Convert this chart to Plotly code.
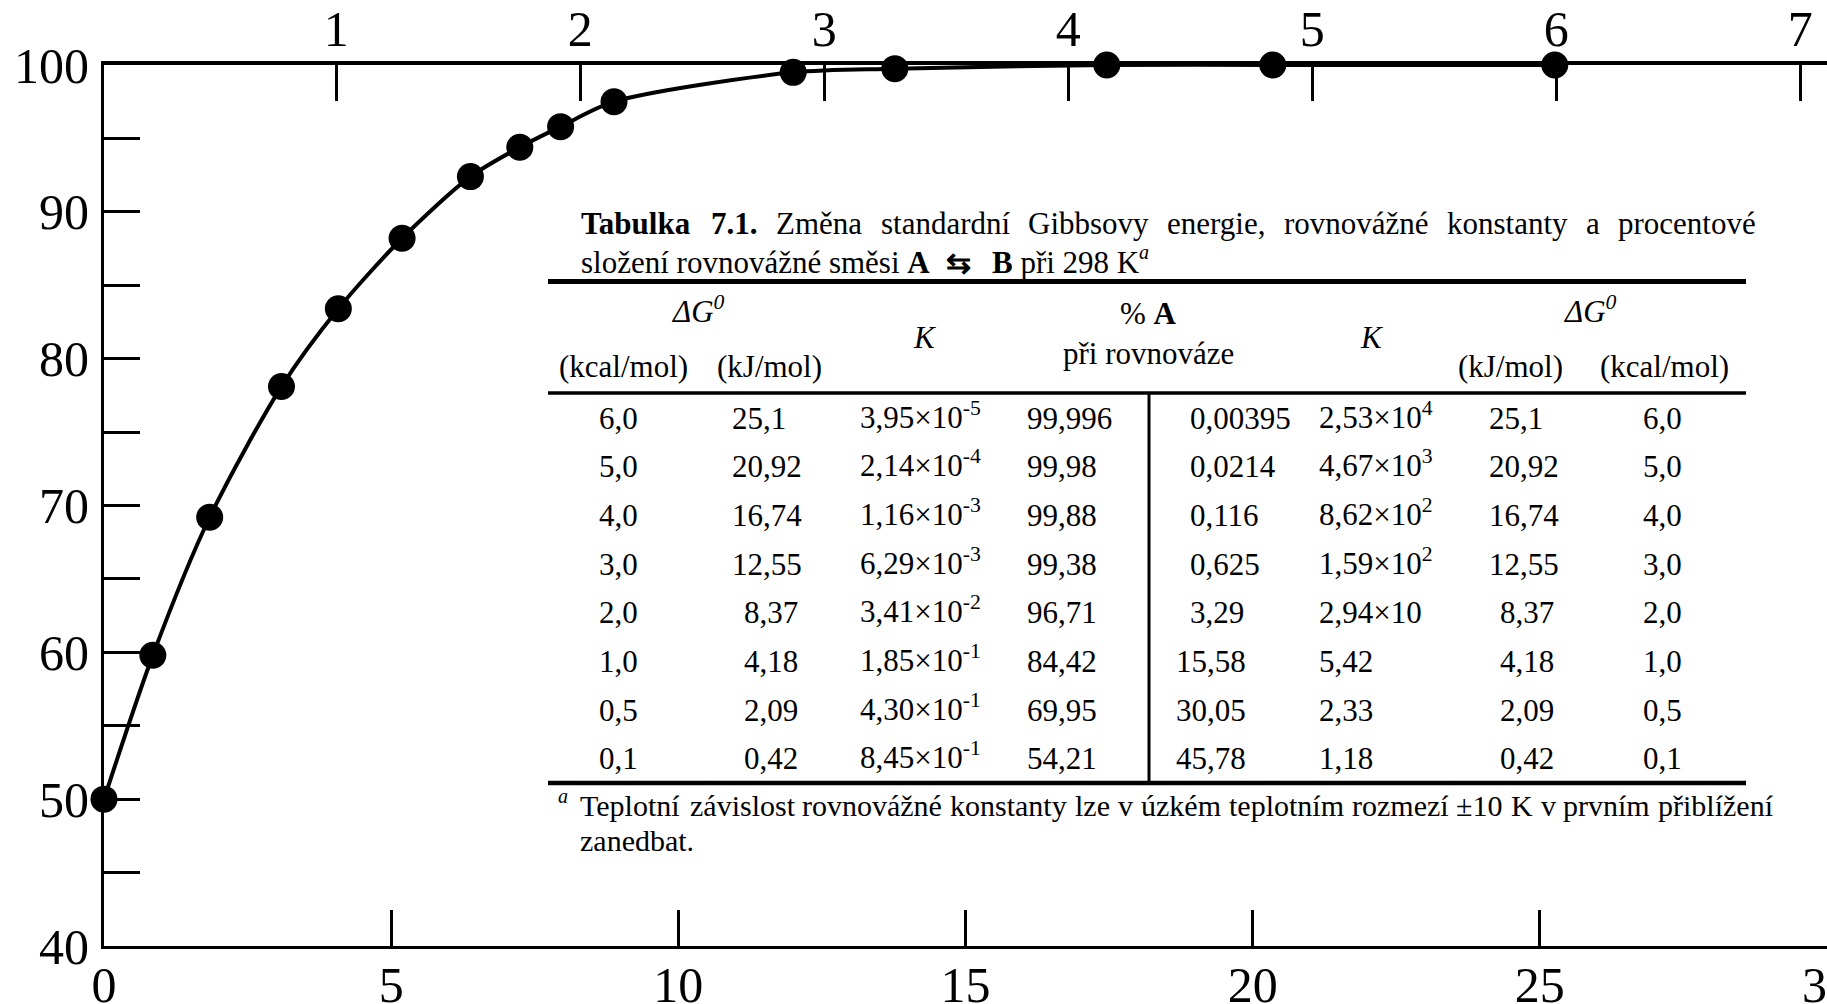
import unicodedata
import plotly.graph_objects as go

# ---------------- data ----------------
curve_dG_kJ = [0, 0.85, 1.84, 3.09, 4.08, 5.19, 6.38, 7.24, 7.95, 8.88, 12.0, 13.77, 17.46, 20.35, 25.26]
curve_pct_A = [50, 59.8, 69.2, 78.1, 83.4, 88.2, 92.4, 94.4, 95.8, 97.5, 99.5, 99.75, 100, 100, 100]

y_ticks = [40, 50, 60, 70, 80, 90, 100]
y_tick_labels = ["40", "50", "60", "70", "80", "90", "100"]
x_ticks_kJ = [0, 5, 10, 15, 20, 25, 30]
x_tick_labels_kJ = ["0", "5", "10", "15", "20", "25", "30"]
x_ticks_kcal = [1, 2, 3, 4, 5, 6, 7]
x_tick_labels_kcal = ["1", "2", "3", "4", "5", "6", "7"]

table_dG_kcal = ["6,0", "5,0", "4,0", "3,0", "2,0", "1,0", "0,5", "0,1"]
table_dG_kJ = ["25,1", "20,92", "16,74", "12,55", "8,37", "4,18", "2,09", "0,42"]
table_K = ["3,95×10<sup>-5</sup>", "2,14×10<sup>-4</sup>", "1,16×10<sup>-3</sup>", "6,29×10<sup>-3</sup>",
           "3,41×10<sup>-2</sup>", "1,85×10<sup>-1</sup>", "4,30×10<sup>-1</sup>", "8,45×10<sup>-1</sup>"]
table_pct_A = ["99,996", "99,98", "99,88", "99,38", "96,71", "84,42", "69,95", "54,21"]
table_pct_A_rev = ["0,00395", "0,0214", "0,116", "0,625", "3,29", "15,58", "30,05", "45,78"]
table_K_rev = ["2,53×10<sup>4</sup>", "4,67×10<sup>3</sup>", "8,62×10<sup>2</sup>", "1,59×10<sup>2</sup>",
               "2,94×10", "5,42", "2,33", "1,18"]

title_line1 = [("Tabulka", True), ("7.1.", True), ("Změna", False), ("standardní", False),
               ("Gibbsovy", False), ("energie,", False), ("rovnovážné", False), ("konstanty", False),
               ("a", False), ("procentové", False)]
footnote_line1 = ["Teplotní", "závislost", "rovnovážné", "konstanty", "lze", "v", "úzkém", "teplotním",
                  "rozmezí", "±10", "K", "v", "prvním", "přiblížení"]

# ---------------- layout helpers ----------------
W, H = 1827, 1004
L, R, T, B = 104, 0, 65, 58
PW, PH = W - L - R, H - T - B
SERIF = "Liberation Serif"
TS = 31  # table font size


def px(x):
    return (x - L) / PW


def py(y):
    return (H - B - y) / PH


REG = dict(a=444, b=500, c=444, d=500, e=444, f=333, g=500, h=500, i=278, j=278, k=500, l=278, m=778,
           n=500, o=500, p=500, q=500, r=333, s=389, t=278, u=500, v=500, w=722, x=500, y=500, z=444,
           A=722, B=667, G=722, K=722, T=611, Z=611)
BOLD = dict(T=667, a=500, b=556, u=556, l=278, k=556)


def text_w(s, size, bold=False):
    tot = 0
    for ch in s:
        base = unicodedata.normalize("NFD", ch)[0]
        if base.isdigit():
            w = 500
        elif base in ",.":
            w = 250
        elif base == "±":
            w = 564
        elif bold and base in BOLD:
            w = BOLD[base]
        else:
            w = REG.get(base, 500)
        tot += w
    return tot * size / 1000.0


annotations = []
shapes = []


def ann(text, x, y, xanchor="left", size=TS, yanchor="middle"):
    annotations.append(dict(text=text, x=px(x), y=py(y), xref="paper", yref="paper",
                            xanchor=xanchor, yanchor=yanchor, showarrow=False,
                            font=dict(family=SERIF, size=size, color="black")))


def hline(x0, x1, y, w):
    shapes.append(dict(type="line", xref="paper", yref="paper", x0=px(x0), x1=px(x1),
                       y0=py(y), y1=py(y), line=dict(color="black", width=w)))


def justify(words, x0, x1, y, size):
    widths = [text_w(t, size, b) for t, b in words]
    gap = (x1 - x0 - sum(widths)) / (len(words) - 1)
    x = x0
    for (t, b), w in zip(words, widths):
        ann("<b>%s</b>" % t if b else t, x, y, "left", size)
        x += w + gap


# ---------------- table text ----------------
justify(title_line1, 579, 1754, 224, TS)
ann("složení rovnovážné směsi <b>A</b>", 579, 262)
ann("<b>⇆</b>", 958, 262, "center", 30)
ann("<b>B</b> při 298 K", 990, 262)
ann("<i>a</i>", 1137, 252, "left", 20)

hline(548, 1746, 281.5, 5)
ann("<i>ΔG</i><sup><i>0</i></sup>", 698, 309, "center")
ann("<i>ΔG</i><sup><i>0</i></sup>", 1590, 309, "center")
ann("<i>K</i>", 925, 337, "center")
ann("<i>K</i>", 1372, 337, "center")
ann("% <b>A</b>", 1148, 313, "center")
ann("při rovnováze", 1148, 353, "center")
ann("(kcal/mol)", 623, 366, "center")
ann("(kJ/mol)", 769, 366, "center")
ann("(kJ/mol)", 1510, 366, "center")
ann("(kcal/mol)", 1664, 366, "center")
hline(548, 1746, 393, 3.5)

row_y0, row_step = 418, 48.7
for i in range(len(table_dG_kcal)):
    y = row_y0 + i * row_step
    two_digit = len(table_dG_kJ[i].split(",")[0]) == 2
    ann(table_dG_kcal[i], 618, y, "center")
    if two_digit:
        ann(table_dG_kJ[i], 730, y, "left")
    else:
        ann(table_dG_kJ[i], 800, y, "right")
    ann(table_K[i], 858, y - 3, "left")
    ann(table_pct_A[i], 1025, y, "left")
    ann(table_pct_A_rev[i], 1174 if len(table_pct_A_rev[i].split(",")[0]) == 2 else 1188, y, "left")
    ann(table_K_rev[i], 1317, y - (3 if "sup" in table_K_rev[i] else 0), "left")
    if two_digit:
        ann(table_dG_kJ[i], 1487, y, "left")
    else:
        ann(table_dG_kJ[i], 1556, y, "right")
    ann(table_dG_kcal[i], 1662, y, "center")

hline(548, 1746, 783, 4.5)
shapes.append(dict(type="line", xref="paper", yref="paper", x0=px(1149), x1=px(1149),
                   y0=py(393), y1=py(783), line=dict(color="black", width=3)))

ann("<i>a</i>", 556, 796, "left", 20)
justify([(w, False) for w in footnote_line1], 578, 1771, 805, 30)
ann("zanedbat.", 578, 840, "left", 30)

# ---------------- figure ----------------
fig = go.Figure()
fig.add_trace(go.Scatter(x=curve_dG_kJ, y=curve_pct_A, mode="lines+markers",
                         line=dict(color="black", width=4, shape="spline", smoothing=0.8),
                         marker=dict(color="black", size=27), cliponaxis=False, showlegend=False))
fig.add_trace(go.Scatter(x=[x_ticks_kcal[0]], y=[None], xaxis="x2", yaxis="y",
                         mode="markers", showlegend=False, hoverinfo="skip"))

tickfont = dict(family=SERIF, size=50, color="black")
common = dict(ticks="inside", ticklen=36, tickwidth=2.5, tickcolor="black", showline=True,
              linecolor="black", showgrid=False, zeroline=False, tickfont=tickfont,
              ticklabeloverflow="allow", automargin=False)
fig.update_layout(
    width=W, height=H, margin=dict(l=L, r=R, t=T, b=B, autoexpand=False),
    paper_bgcolor="white", plot_bgcolor="white",
    xaxis=dict(range=[0, 30], tickvals=x_ticks_kJ, ticktext=x_tick_labels_kJ, linewidth=3,
               ticklabelstandoff=-7, **common),
    xaxis2=dict(range=[0.048, 7.11], overlaying="x", side="top", anchor="y", tickvals=x_ticks_kcal,
                ticktext=x_tick_labels_kcal, linewidth=4, ticklabelstandoff=-5, **common),
    yaxis=dict(range=[40, 100], tickvals=y_ticks, ticktext=y_tick_labels, linewidth=3,
               ticklabelstandoff=2,
               minor=dict(dtick=5, tick0=40, ticks="inside", ticklen=36, tickwidth=2.5,
                          tickcolor="black", showgrid=False),
               **common),
    annotations=annotations, shapes=shapes,
)

fig.write_html("out.html", config={"displayModeBar": False},
               post_script="document.body.style.margin='0px';document.body.style.overflow='hidden';")
